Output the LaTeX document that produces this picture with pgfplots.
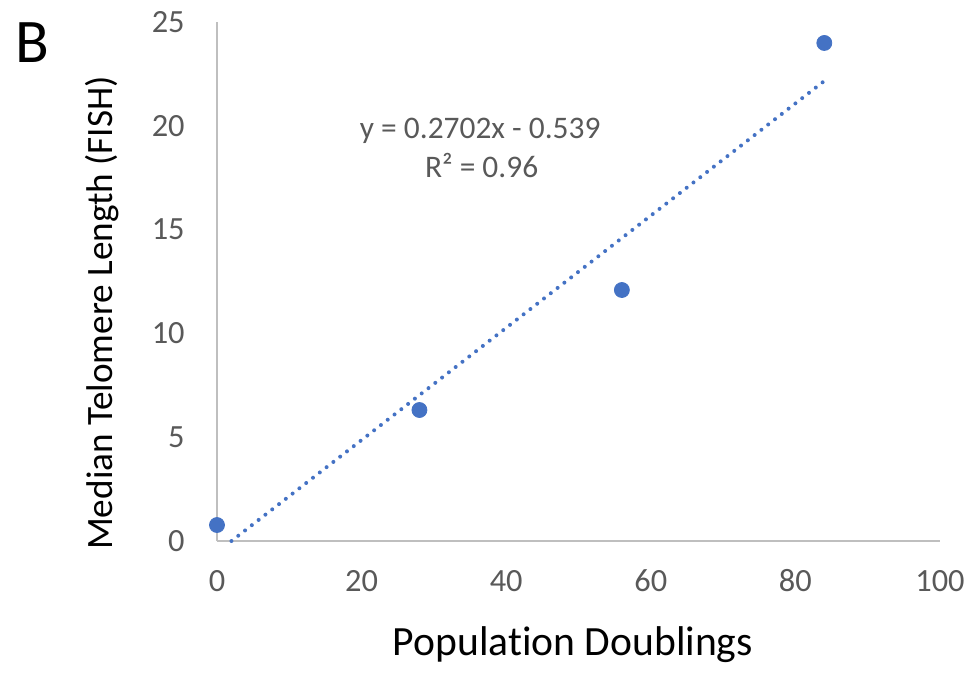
\documentclass[border=0pt]{standalone}
\usepackage{fontspec}
\setmainfont[Ligatures=NoCommon]{Carlito}
\usepackage{pgfplots}
\pgfplotsset{compat=1.18}
\definecolor{xlblue}{HTML}{4472C4}
\definecolor{axgray}{HTML}{BFBFBF}
\definecolor{tickgray}{HTML}{595959}

\begin{document}
\begin{tikzpicture}
\begin{axis}[
  scale only axis, width=361.5pt, height=259.5pt,
  xmin=0, xmax=100, ymin=0, ymax=25,
  axis x line=bottom, axis y line=left,
  axis line style={-, draw=axgray, line width=0.9pt},
  xtick={0,20,...,100}, ytick={0,5,...,25},
  major tick length=0pt,
  tick label style={font=\fontsize{16.2}{19}\selectfont, text=tickgray},
  /pgf/number format/assume math mode=true,
  xticklabel style={anchor=base, inner sep=0pt, yshift=-25pt},
  yticklabel style={anchor=east, inner sep=0pt, xshift=-16pt},
  clip=false,
]
% linear trendline (Excel): y = 0.2702x - 0.539, from y=0 to x=84
\addplot[xlblue, line width=2pt, line cap=round, dash pattern=on 0pt off 4.3pt]
  coordinates {(2,0) (84,22.16)};
\addplot[only marks, mark=*, mark size=3.75pt, mark options={draw=xlblue, fill=xlblue}]
  coordinates {(0,0.77) (28,6.31) (56,12.09) (84,23.99)};

\node[anchor=base, font=\fontsize{15.7}{19}\selectfont, text=tickgray]
  at (axis cs:36.4,19.41) {y = 0.2702x - 0.539};
\node[anchor=base, font=\fontsize{15.7}{19}\selectfont, text=tickgray]
  at (axis cs:36.6,17.49) {R² = 0.96};

\node[anchor=base, font=\fontsize{20.8}{24}\selectfont, yshift=-57pt]
  at (rel axis cs:0.4924,0) {Population Doublings};
\node[xshift=-52pt, anchor=base, rotate=90, font=\fontsize{18.6}{22}\selectfont]
  at (rel axis cs:0,0.4393) {Median Telomere Length (FISH)};
\node[anchor=base, font=\fontsize{31}{36}\selectfont, xshift=-92.5pt, yshift=239pt]
  at (rel axis cs:0,0) {B};
\end{axis}
\pgfresetboundingbox
\path[use as bounding box] (-108.5pt,-70pt) rectangle (377.5pt,270.5pt);
\end{tikzpicture}
\end{document}
